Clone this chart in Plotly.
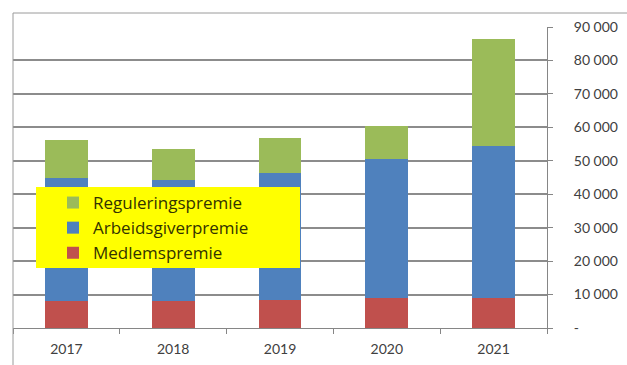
import plotly.graph_objects as go

# Premium components per year
years = ["2017", "2018", "2019", "2020", "2021"]
medlemspremie = [8000, 8000, 8500, 9000, 9000]
arbeidsgiverpremie = [37000, 36250, 37750, 41500, 45500]
reguleringspremie = [11200, 9300, 10700, 10000, 31900]

y_ticks = [0, 10000, 20000, 30000, 40000, 50000, 60000, 70000, 80000, 90000]
y_ticktext = ["-", "10 000", "20 000", "30 000", "40 000", "50 000",
              "60 000", "70 000", "80 000", "90 000"]

W, H = 627, 365
L, R, T, B = 13, 80, 27, 37
pw, ph = W - L - R, H - T - B

def px_x(x):
    return (x - L) / pw

def px_y(y):
    return (H - B - y) / ph

fig = go.Figure()
series = [
    ("Medlemspremie", medlemspremie, "#C0504D"),
    ("Arbeidsgiverpremie", arbeidsgiverpremie, "#4F81BD"),
    ("Reguleringspremie", reguleringspremie, "#9BBB59"),
]
for name, vals, color in series:
    fig.add_trace(go.Bar(
        x=years, y=vals, name=name, marker_color=color,
        marker_line_width=0, legendgroup=name, width=0.4,
    ))

fig.update_layout(
    width=W, height=H,
    margin=dict(l=L, r=R, t=T, b=B, autoexpand=False),
    barmode="stack",
    paper_bgcolor="white",
    plot_bgcolor="white",
    font=dict(family="Lato, Open Sans, sans-serif", color="#404040"),
    legend=dict(
        x=px_x(53), y=px_y(185), xanchor="left", yanchor="top",
        bgcolor="rgba(0,0,0,0)",
        traceorder="reversed",
        tracegroupgap=11,
        font=dict(size=17, color="#333300", family="Open Sans, sans-serif"),
    ),
    xaxis=dict(
        type="category",
        tickson="boundaries",
        ticks="outside", ticklen=5, tickcolor="#868686",
        showline=True, linecolor="#868686", linewidth=1,
        showgrid=False,
        automargin=False,
        ticklabelstandoff=8,
        tickfont=dict(size=14, color="#404040"),
    ),
    yaxis=dict(
        side="right",
        range=[0, 90000],
        tickvals=y_ticks, ticktext=y_ticktext,
        ticks="outside", ticklen=5, tickcolor="#868686",
        showline=True, linecolor="#868686", linewidth=1,
        showgrid=True, gridcolor="#8c8c8c", gridwidth=1.5,
        zeroline=False,
        automargin=False,
        ticklabelstandoff=18,
        tickfont=dict(size=14, color="#404040"),
    ),
    shapes=[
        # legend backdrop
        dict(type="rect", xref="paper", yref="paper",
             x0=px_x(36), x1=px_x(300), y0=px_y(268), y1=px_y(187),
             fillcolor="#FFFF00", line_width=0, layer="above"),
        # outer chart frame
        dict(type="line", xref="paper", yref="paper",
             x0=px_x(13), x1=px_x(640), y0=px_y(13), y1=px_y(13),
             line=dict(color="#9a9a9a", width=1)),
        dict(type="line", xref="paper", yref="paper",
             x0=px_x(13), x1=px_x(13), y0=px_y(13), y1=px_y(370),
             line=dict(color="#9a9a9a", width=1)),
    ],
)

fig.write_html("out.html")
